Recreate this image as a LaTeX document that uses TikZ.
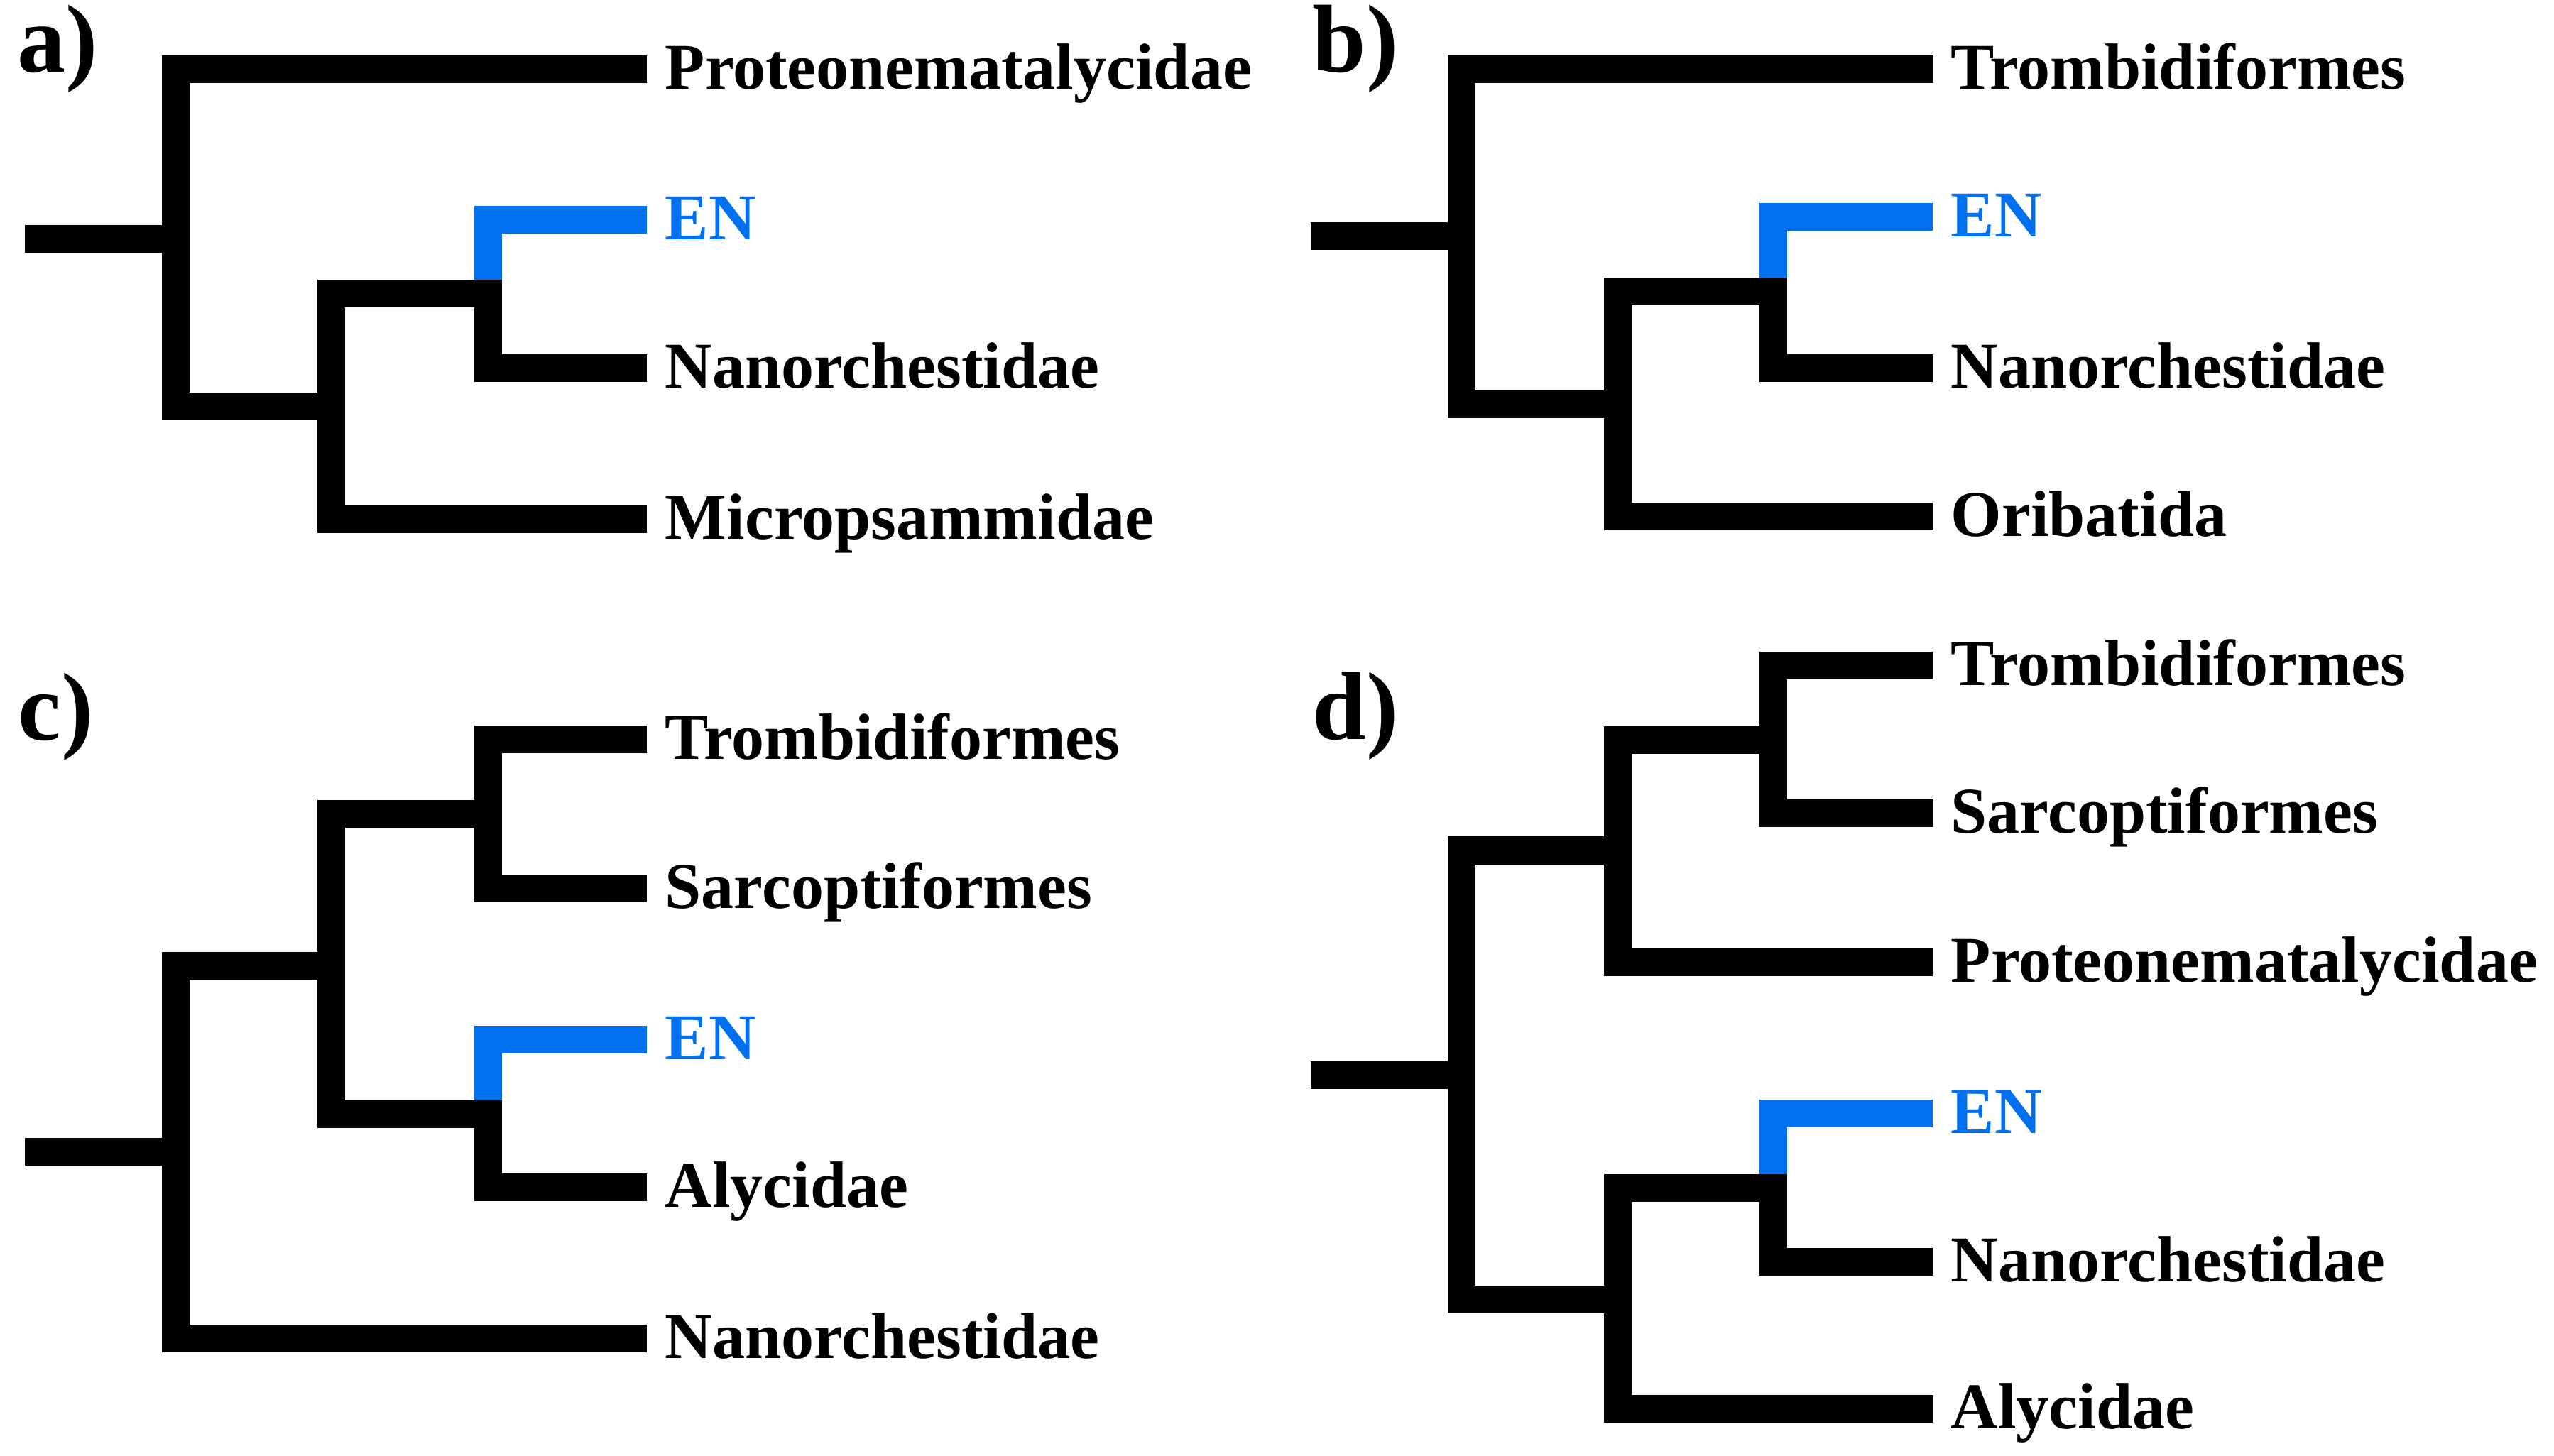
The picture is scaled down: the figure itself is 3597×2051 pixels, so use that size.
\documentclass[tikz,border=0pt]{standalone}
\usepackage{fontspec}
\setmainfont{Liberation Serif}
\usetikzlibrary{calc}
\definecolor{enblue}{RGB}{0,112,240}
\tikzset{
  br/.style={line width=9.75pt, line cap=butt, line join=miter, draw=black},
  brblue/.style={br, draw=enblue},
  lab/.style={anchor=base west, inner sep=0pt, font=\fontsize{23}{27}\selectfont\bfseries},
  enlab/.style={lab, text=enblue},
  panel/.style={anchor=base west, inner sep=0pt, font=\fontsize{34}{40}\selectfont\bfseries}
}
\begin{document}
\begin{tikzpicture}[x=0.25pt,y=-0.25pt]
\fill[white] (0,0) rectangle (3597,2051);
\useasboundingbox (0,0) rectangle (3597,2051);

% ---------- panel a ----------
\coordinate (ra) at (35,337);
\coordinate (a1) at (247,337);
\coordinate (a2) at (466,573);
\coordinate (a3) at (687,414);
\coordinate (aP) at (911,98);
\coordinate (aEN) at (911,310);
\coordinate (aNa) at (911,519);
\coordinate (aMi) at (911,732);
\draw[br] (ra) -- (a1);
\draw[br] (aP) -| (a1) |- (a2);
\draw[br] (a3) -| (a2) |- (aMi);
\draw[br] (aEN) -| (a3) |- (aNa);
\draw[brblue] (aEN) -| ($(a3)+(0,-19.5)$);
\node[panel] (pa) at (24,102) {a)};
\node[lab] (laP) at ($(aP)+(25,28)$) {Proteonematalycidae};
\node[enlab] (laEN) at ($(aEN)+(25,28)$) {EN};
\node[lab] (laNa) at ($(aNa)+(25,28)$) {Nanorchestidae};
\node[lab] (laMi) at ($(aMi)+(25,28)$) {Micropsammidae};

% ---------- panel b ----------
\coordinate (rb) at (1846,333);
\coordinate (b1) at (2058,333);
\coordinate (b2) at (2278,570);
\coordinate (b3) at (2497,411);
\coordinate (bT) at (2722,98);
\coordinate (bEN) at (2722,306);
\coordinate (bNa) at (2722,519);
\coordinate (bOr) at (2722,728);
\draw[br] (rb) -- (b1);
\draw[br] (bT) -| (b1) |- (b2);
\draw[br] (b3) -| (b2) |- (bOr);
\draw[br] (bEN) -| (b3) |- (bNa);
\draw[brblue] (bEN) -| ($(b3)+(0,-19.5)$);
\node[panel] (pb) at (1848,102) {b)};
\node[lab] (lbT) at ($(bT)+(25,28)$) {Trombidiformes};
\node[enlab] (lbEN) at ($(bEN)+(25,28)$) {EN};
\node[lab] (lbNa) at ($(bNa)+(25,28)$) {Nanorchestidae};
\node[lab] (lbOr) at ($(bOr)+(25,28)$) {Oribatida};

% ---------- panel c ----------
\coordinate (rc) at (35,1622);
\coordinate (c1) at (247,1622);
\coordinate (c2) at (466,1360);
\coordinate (c3) at (687,1147);
\coordinate (c4) at (687,1569);
\coordinate (cT) at (911,1042);
\coordinate (cS) at (911,1251);
\coordinate (cEN) at (911,1464);
\coordinate (cAl) at (911,1672);
\coordinate (cNa) at (911,1885);
\draw[br] (rc) -- (c1);
\draw[br] (c2) -| (c1) |- (cNa);
\draw[br] (c3) -| (c2) |- (c4);
\draw[br] (cT) -| (c3) |- (cS);
\draw[br] (cEN) -| (c4) |- (cAl);
\draw[brblue] (cEN) -| ($(c4)+(0,-19.5)$);
\node[panel] (pc) at (25,1043) {c)};
\node[lab] (lcT) at ($(cT)+(25,28)$) {Trombidiformes};
\node[lab] (lcS) at ($(cS)+(25,28)$) {Sarcoptiformes};
\node[enlab] (lcEN) at ($(cEN)+(25,28)$) {EN};
\node[lab] (lcAl) at ($(cAl)+(25,28)$) {Alycidae};
\node[lab] (lcNa) at ($(cNa)+(25,28)$) {Nanorchestidae};

% ---------- panel d ----------
\coordinate (rd) at (1846,1514);
\coordinate (d1) at (2058,1514);
\coordinate (d2) at (2278,1198);
\coordinate (d3) at (2497,1043);
\coordinate (d4) at (2278,1830);
\coordinate (d5) at (2497,1673);
\coordinate (dT) at (2722,938);
\coordinate (dS) at (2722,1146);
\coordinate (dP) at (2722,1355);
\coordinate (dEN) at (2722,1568);
\coordinate (dNa) at (2722,1777);
\coordinate (dAl) at (2722,1984);
\draw[br] (rd) -- (d1);
\draw[br] (d2) -| (d1) |- (d4);
\draw[br] (d3) -| (d2) |- (dP);
\draw[br] (dT) -| (d3) |- (dS);
\draw[br] (d5) -| (d4) |- (dAl);
\draw[br] (dEN) -| (d5) |- (dNa);
\draw[brblue] (dEN) -| ($(d5)+(0,-19.5)$);
\node[panel] (pd) at (1848,1042) {d)};
\node[lab] (ldT) at ($(dT)+(25,28)$) {Trombidiformes};
\node[lab] (ldS) at ($(dS)+(25,28)$) {Sarcoptiformes};
\node[lab] (ldP) at ($(dP)+(25,28)$) {Proteonematalycidae};
\node[enlab] (ldEN) at ($(dEN)+(25,28)$) {EN};
\node[lab] (ldNa) at ($(dNa)+(25,28)$) {Nanorchestidae};
\node[lab] (ldAl) at ($(dAl)+(25,28)$) {Alycidae};
\end{tikzpicture}
\end{document}
